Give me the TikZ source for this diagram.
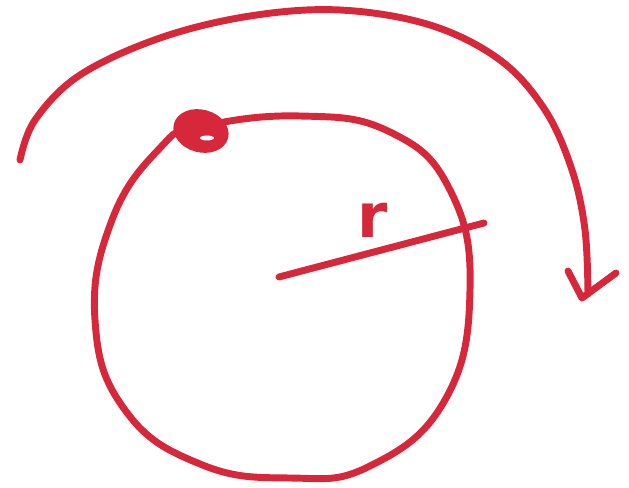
\documentclass[tikz,border=0pt]{standalone}
\usepackage{fontspec}
\setsansfont{DejaVu Sans}
\usetikzlibrary{shapes.geometric}
\definecolor{pen}{RGB}{214,40,58}
\begin{document}
\begin{tikzpicture}[x=0.75pt,y=-0.75pt,
  stroke/.style={draw=pen,line width=5.2pt,line cap=round,line join=round}]
\useasboundingbox (0,0) rectangle (629,488);
% circle
\draw[stroke] plot[smooth cycle,tension=0.75] coordinates {
  (200,127) (300,116) (390,132) (450,190) (470,290)
  (445,400) (370,466) (290,478) (200,464) (125,410)
  (95,320) (112,220) (160,148)};
% blob
\node[ellipse,draw=pen,fill=pen,line width=5pt,minimum width=37pt,minimum height=27pt,inner sep=0pt,rotate=-15] (blob) at (201,131) {};
\fill[white] (207,138) ellipse [x radius=7, y radius=2.5];
% radius
\coordinate (c) at (279,277);
\coordinate (re) at (484,223);
\draw[stroke] (c) -- (re);
\node[text=pen,font=\sffamily\bfseries\fontsize{46}{46}\selectfont,inner sep=0pt] (r) at (373,220) {r};
% big arc arrow
\coordinate (s) at (20,160);
\coordinate (t) at (588,294);
\draw[stroke] plot[smooth,tension=0.6] coordinates {
  (s) (35,120) (80,75) (160,38) (250,16) (340,10) (430,25) (500,60)
  (545,110) (572,170) (585,230) (t)};
\coordinate (al) at (568,271);
\coordinate (ar) at (616,273);
\draw[stroke] (al) -- (582,298) -- (ar);
\end{tikzpicture}
\end{document}
